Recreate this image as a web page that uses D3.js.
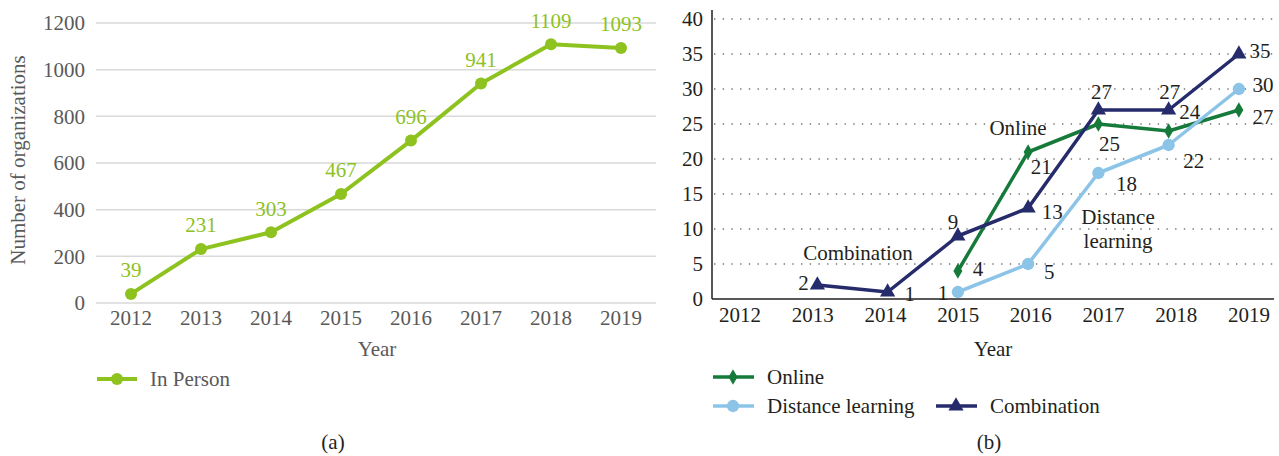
<!DOCTYPE html>
<html>
<head>
<meta charset="utf-8">
<script src="https://cdn.jsdelivr.net/npm/d3@7"></script>
<style>
  body { margin: 0; background: #fff; }
  text { font-family: "Liberation Serif", "Times New Roman", serif; font-size: 21px; }
</style>
</head>
<body>
<svg id="chart" width="1279" height="456"></svg>
<script>
const years = ["2012", "2013", "2014", "2015", "2016", "2017", "2018", "2019"];
const inPerson = [39, 231, 303, 467, 696, 941, 1109, 1093];
const leftTicks = [0, 200, 400, 600, 800, 1000, 1200];

const onlineYears = ["2015", "2016", "2017", "2018", "2019"];
const online = [4, 21, 25, 24, 27];
const distanceYears = ["2015", "2016", "2017", "2018", "2019"];
const distance = [1, 5, 18, 22, 30];
const comboYears = ["2013", "2014", "2015", "2016", "2017", "2018", "2019"];
const combination = [2, 1, 9, 13, 27, 27, 35];
const rightTicks = [0, 5, 10, 15, 20, 25, 30, 35, 40];

// label nudges (px) for the right panel, per point
const onlineOff = [[20, -2], [13, 15], [11, 20], [21, -19], [24, 7]];
const distanceOff = [[-15, 1], [21, 8], [28, 11], [25, 16], [24, -4]];
const comboOff = [[-14, -2], [22, 2], [-5, -14], [24, 4], [3, -18], [1, -18], [21, -3]];

const lime = "#8DC21F", green = "#167A3B", sky = "#8CC4E8", navy = "#262B6B";
const grayText = "#595959", darkText = "#231F20";

const svg = d3.select("#chart");

// ---------- panel (a) ----------
const xa = d3.scaleBand().domain(years).range([96, 656]);
const ya = d3.scaleLinear().domain([0, 1200]).range([303, 23]);

const ga = svg.append("g");
ga.selectAll("line.grid").data(leftTicks).enter().append("line")
  .attr("x1", 96).attr("x2", 656)
  .attr("y1", d => ya(d)).attr("y2", d => ya(d))
  .attr("stroke", "#d9d9d9").attr("stroke-width", 1.5);

ga.selectAll("text.ytick").data(leftTicks).enter().append("text")
  .attr("x", 85).attr("y", d => ya(d)).attr("dy", "0.35em")
  .attr("text-anchor", "end").attr("fill", grayText)
  .text(d => d);

ga.selectAll("text.xtick").data(years).enter().append("text")
  .attr("x", d => xa(d) + xa.bandwidth() / 2).attr("y", 325)
  .attr("text-anchor", "middle").attr("fill", grayText)
  .text(d => d);

const lineA = d3.line().x((d, i) => xa(years[i]) + xa.bandwidth() / 2).y(d => ya(d));
ga.append("path").datum(inPerson).attr("d", lineA)
  .attr("fill", "none").attr("stroke", lime).attr("stroke-width", 4).attr("stroke-linejoin", "round");
ga.selectAll("circle.pt").data(inPerson).enter().append("circle")
  .attr("cx", (d, i) => xa(years[i]) + xa.bandwidth() / 2).attr("cy", d => ya(d))
  .attr("r", 6).attr("fill", lime);
ga.selectAll("text.lbl").data(inPerson).enter().append("text")
  .attr("x", (d, i) => xa(years[i]) + xa.bandwidth() / 2).attr("y", d => ya(d) - 24)
  .attr("dy", "0.35em").attr("text-anchor", "middle").attr("fill", lime)
  .text(d => d);

ga.append("text").attr("transform", "translate(18,160) rotate(-90)")
  .attr("dy", "0.35em").attr("text-anchor", "middle").attr("fill", grayText)
  .text("Number of organizations");
ga.append("text").attr("x", 377).attr("y", 349).attr("dy", "0.35em")
  .attr("text-anchor", "middle").attr("fill", grayText).text("Year");

ga.append("line").attr("x1", 97).attr("x2", 137).attr("y1", 379).attr("y2", 379)
  .attr("stroke", lime).attr("stroke-width", 4);
ga.append("circle").attr("cx", 117).attr("cy", 379).attr("r", 6).attr("fill", lime);
ga.append("text").attr("x", 150).attr("y", 379).attr("dy", "0.35em")
  .attr("fill", grayText).text("In Person");
ga.append("text").attr("x", 333).attr("y", 442).attr("dy", "0.35em")
  .attr("text-anchor", "middle").attr("fill", darkText).text("(a)");

// ---------- panel (b) ----------
const xb = d3.scaleBand().domain(years).range([712, 1274]);
const xbLabel = d3.scalePoint().domain(years).range([740, 1249]);
const yb = d3.scaleLinear().domain([0, 40]).range([299, 19]);
const cx = d => xb(d) + xb.bandwidth() / 2;

const gb = svg.append("g");
gb.selectAll("line.grid").data(rightTicks.slice(1)).enter().append("line")
  .attr("x1", 714).attr("x2", 1274)
  .attr("y1", d => yb(d)).attr("y2", d => yb(d))
  .attr("stroke", "#777").attr("stroke-width", 1.4).attr("stroke-dasharray", "1.4 7.3");

gb.append("line").attr("x1", 712).attr("x2", 712).attr("y1", 10).attr("y2", 299)
  .attr("stroke", darkText).attr("stroke-width", 1.5);
gb.append("line").attr("x1", 712).attr("x2", 1274).attr("y1", 299).attr("y2", 299)
  .attr("stroke", darkText).attr("stroke-width", 1.5);

gb.selectAll("text.ytick").data(rightTicks).enter().append("text")
  .attr("x", 703).attr("y", d => yb(d)).attr("dy", "0.35em")
  .attr("text-anchor", "end").attr("fill", darkText)
  .text(d => d);
gb.selectAll("text.xtick").data(years).enter().append("text")
  .attr("x", d => xbLabel(d)).attr("y", 322)
  .attr("text-anchor", "middle").attr("fill", darkText)
  .text(d => d);

const series = [
  { name: "Online", x: onlineYears, v: online, off: onlineOff, color: green, shape: d3.symbolDiamond, size: 70 },
  { name: "Distance learning", x: distanceYears, v: distance, off: distanceOff, color: sky, shape: d3.symbolCircle, size: 120 },
  { name: "Combination", x: comboYears, v: combination, off: comboOff, color: navy, shape: d3.symbolTriangle, size: 100 }
];

series.forEach(s => {
  const line = d3.line().x((d, i) => cx(s.x[i])).y(d => yb(d));
  gb.append("path").datum(s.v).attr("d", line)
    .attr("fill", "none").attr("stroke", s.color).attr("stroke-width", 3.5).attr("stroke-linejoin", "round");
  gb.selectAll(null).data(s.v).enter().append("path")
    .attr("d", d3.symbol().type(s.shape).size(s.size))
    .attr("transform", (d, i) => `translate(${cx(s.x[i])},${yb(d)})`)
    .attr("fill", s.color);
});
series.forEach(s => {
  gb.selectAll(null).data(s.v).enter().append("text")
    .attr("x", (d, i) => cx(s.x[i]) + s.off[i][0])
    .attr("y", (d, i) => yb(d) + s.off[i][1])
    .attr("dy", "0.35em").attr("text-anchor", "middle").attr("fill", darkText)
    .text(d => d);
});

// series name callouts
gb.append("text").attr("x", 1018).attr("y", 128).attr("dy", "0.35em")
  .attr("text-anchor", "middle").attr("fill", darkText).text("Online");
gb.append("text").attr("x", 1118).attr("y", 217).attr("dy", "0.35em")
  .attr("text-anchor", "middle").attr("fill", darkText).text("Distance");
gb.append("text").attr("x", 1118).attr("y", 241).attr("dy", "0.35em")
  .attr("text-anchor", "middle").attr("fill", darkText).text("learning");
gb.append("text").attr("x", 858).attr("y", 253).attr("dy", "0.35em")
  .attr("text-anchor", "middle").attr("fill", darkText).text("Combination");

gb.append("text").attr("x", 993).attr("y", 349).attr("dy", "0.35em")
  .attr("text-anchor", "middle").attr("fill", darkText).text("Year");

// legend
const legendItems = [
  { s: series[0], x: 713, y: 377 },
  { s: series[1], x: 713, y: 406 },
  { s: series[2], x: 936, y: 406 }
];
legendItems.forEach(l => {
  gb.append("line").attr("x1", l.x).attr("x2", l.x + 41).attr("y1", l.y).attr("y2", l.y)
    .attr("stroke", l.s.color).attr("stroke-width", 3.5);
  gb.append("path").attr("d", d3.symbol().type(l.s.shape).size(l.s.size))
    .attr("transform", `translate(${l.x + 20},${l.y})`).attr("fill", l.s.color);
  gb.append("text").attr("x", l.x + 54).attr("y", l.y).attr("dy", "0.35em")
    .attr("fill", darkText).text(l.s.name);
});

gb.append("text").attr("x", 989).attr("y", 442).attr("dy", "0.35em")
  .attr("text-anchor", "middle").attr("fill", darkText).text("(b)");
</script>
</body>
</html>
